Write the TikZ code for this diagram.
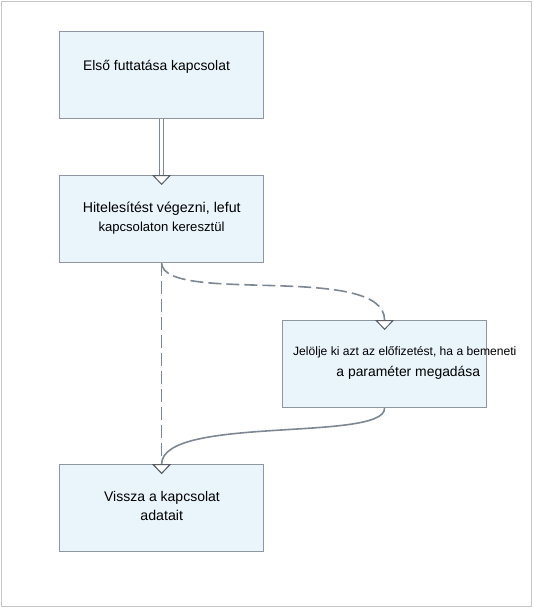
\documentclass[tikz,border=0pt]{standalone}
\usepackage{fontspec}
\setmainfont{Liberation Sans}
\usetikzlibrary{arrows.meta}
\definecolor{boxfill}{HTML}{EAF4FB}
\definecolor{boxline}{HTML}{8E969F}
\definecolor{conn}{HTML}{7E8893}
\definecolor{tipline}{HTML}{5A5F66}
\definecolor{frame}{HTML}{C8C8C8}
\tikzset{
  box/.style={draw=boxline, fill=boxfill, line width=1.2pt, minimum width=204pt, minimum height=87pt, inner sep=0pt, anchor=north west},
  txt/.style={anchor=base, inner sep=0pt, text=black},
  tip/.style={-{Triangle[width=19pt,length=10pt,fill=white,color=tipline,line width=1pt]}, shorten >=-10pt},
  conline/.style={draw=conn, line width=1.6pt},
  dashline/.style={conline, dash pattern=on 13pt off 5pt},
}
\begin{document}
\begin{tikzpicture}[x=1pt,y=-1pt]
\useasboundingbox (0,0) rectangle (533,608);
\draw[frame, line width=1pt] (1,1) rectangle (531,606);
\node[box] (b1) at (59,31) {};
\node[box] (b2) at (59,175) {};
\node[box] (b3) at (282,320) {};
\node[box] (b4) at (59,464) {};
% connectors
\draw[conn, line width=0.9pt, double=white, double distance=2.6pt, tip] (b1.south) -- (b2.north);
\draw[dashline, tip] (b2.south) -- (b4.north);
\draw[dashline, tip] (b2.south) .. controls ++(3,42) and ++(0,-58) .. (b3.north);
\draw[conline, tip] (b3.south) .. controls ++(0,34) and ++(0,-49) .. (b4.north);
% texts
\node[txt, font=\fontsize{13.9}{16}\selectfont] at (156.5,70) {Első futtatása kapcsolat};
\node[txt, font=\fontsize{14.2}{16}\selectfont] at (161.7,212.7) {Hitelesítést végezni, lefut};
\node[txt, font=\fontsize{13.1}{16}\selectfont] at (161.5,231.7) {kapcsolaton keresztül};
\node[txt, font=\fontsize{12.1}{16}\selectfont] at (404.8,355) {Jelölje ki azt az előfizetést, ha a bemeneti};
\node[txt, font=\fontsize{13.9}{16}\selectfont] at (408.3,376.7) {a paraméter megadása};
\node[txt, font=\fontsize{14}{16}\selectfont] at (162,501.7) {Vissza a kapcsolat};
\node[txt, font=\fontsize{14.2}{16}\selectfont] at (161.7,520) {adatait};
\end{tikzpicture}
\end{document}
